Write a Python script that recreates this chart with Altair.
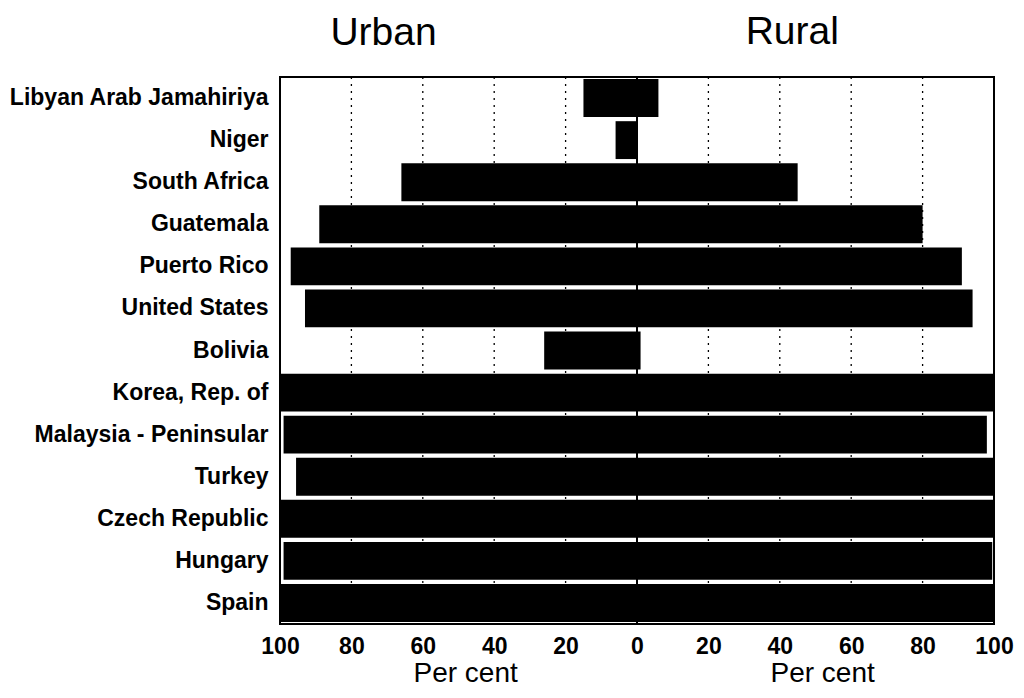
import altair as alt
import pandas as pd

countries = ["Libyan Arab Jamahiriya", "Niger", "South Africa", "Guatemala", "Puerto Rico",
             "United States", "Bolivia", "Korea, Rep. of", "Malaysia - Peninsular", "Turkey",
             "Czech Republic", "Hungary", "Spain"]
urban = [15, 6, 66, 89, 97, 93, 26, 100, 99, 95.5, 100, 99, 100]
rural = [6, 0, 45, 80, 91, 94, 1, 100, 98, 100, 100, 99.5, 100]
tick_values = [-100, -80, -60, -40, -20, 0, 20, 40, 60, 80, 100]
grid_values = [-80, -60, -40, -20, 20, 40, 60, 80]

# annotation texts (x in data units on the shared percent scale)
head_text = ["Urban", "Rural"]
head_x = [-71, 43.5]
head_dy = [0, -1]
foot_text = ["Per cent", "Per cent"]
foot_x = [-48, 52]

df = pd.DataFrame({"country": countries,
                   "left": [-u for u in urban],
                   "right": rural})
grid_df = pd.DataFrame({"g": grid_values})
head_df = pd.DataFrame({"t": head_text, "x": head_x, "dy": head_dy})
foot_df = pd.DataFrame({"t": foot_text, "x": foot_x})

FONT = "Liberation Sans"
W, H = 714, 547

xscale = alt.Scale(domain=[-100, 100], nice=False, zero=False)
x_axis = alt.Axis(values=tick_values, labelExpr="abs(datum.value)", title=None,
                  grid=False, ticks=False, domain=False, labelFont=FONT,
                  labelFontSize=23, labelFontWeight="bold", labelColor="black",
                  labelPadding=11, labelFlush=False)

grid = alt.Chart(grid_df).mark_rule(color="black", strokeWidth=1.3, strokeDash=[2, 5]).encode(
    x=alt.X("g:Q", scale=xscale, axis=x_axis)
)

bars = alt.Chart(df).mark_bar(color="black").encode(
    y=alt.Y("country:N", sort=countries,
            scale=alt.Scale(paddingInner=0.1, paddingOuter=0.05),
            axis=alt.Axis(title=None, ticks=False, domain=False, labelFont=FONT,
                          labelFontSize=23, labelFontWeight="bold", labelColor="black",
                          labelPadding=12, labelLimit=400)),
    x=alt.X("left:Q", scale=xscale, axis=x_axis),
    x2="right:Q",
)

zero = alt.Chart(pd.DataFrame({"z": [0]})).mark_rule(color="black", strokeWidth=2).encode(
    x=alt.X("z:Q", scale=xscale, axis=x_axis)
)

heads = alt.Chart(head_df).mark_text(font=FONT, fontSize=39, color="black",
                                      baseline="alphabetic", align="center").encode(
    x=alt.X("x:Q", scale=xscale, axis=x_axis),
    y=alt.value(-32),
    yOffset=alt.YOffset("dy:Q", scale=None),
    text="t:N",
)

feet = alt.Chart(foot_df).mark_text(font=FONT, fontSize=28, color="black",
                                     baseline="alphabetic", align="center").encode(
    x=alt.X("x:Q", scale=xscale, axis=x_axis),
    y=alt.value(H + 58),
    text="t:N",
)

chart = alt.layer(grid, bars, zero, heads, feet).properties(
    width=W, height=H,
    background="white",
    autosize=alt.AutoSizeParams(type="none"),
    padding={"left": 272, "top": 69, "right": 22, "bottom": 66},
).configure_view(stroke="black", strokeWidth=2)

chart.save("out.html", embed_options={"renderer": "svg", "actions": False})
